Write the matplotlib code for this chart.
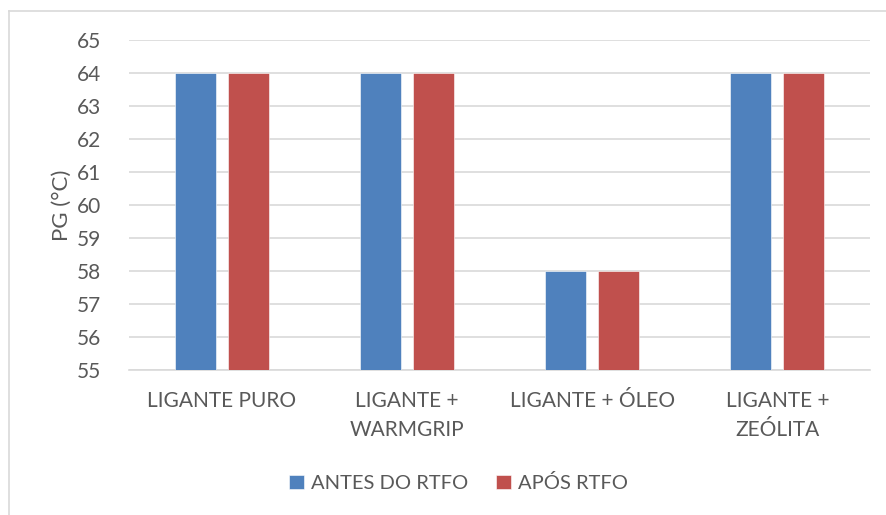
import numpy as np
import matplotlib
matplotlib.use("Agg")
import matplotlib.pyplot as plt
from matplotlib.lines import Line2D

categories = ["LIGANTE PURO", "LIGANTE +\nWARMGRIP", "LIGANTE + ÓLEO", "LIGANTE +\nZEÓLITA"]
antes = [64, 64, 58, 64]
apos = [64, 64, 58, 64]
series_names = ["ANTES DO RTFO", "APÓS RTFO"]
colors = ["#4F81BD", "#C0504D"]
text_color = "#595959"
grid_color = "#D9D9D9"

plt.rcParams['font.family'] = ['Lato', 'DejaVu Sans']

fig = plt.figure(figsize=(8.86, 5.15), dpi=100)
ax = fig.add_axes([129/886, 1-370/515, (870-129)/886, (370-40)/515])

x = np.arange(len(categories))
w = 0.222
off = 0.143
ax.bar(x - off, antes, width=w, color=colors[0], label=series_names[0], zorder=3,
       edgecolor="white", linewidth=0.4)
ax.bar(x + off, apos, width=w, color=colors[1], label=series_names[1], zorder=3,
       edgecolor="white", linewidth=0.4)

ax.set_xlim(-0.5, len(categories) - 0.5)
ax.set_ylim(55, 65)
ax.set_yticks(range(55, 66))
ax.yaxis.grid(True, color=grid_color, linewidth=1.2, zorder=0)
ax.set_axisbelow(True)
for s in ["top", "right", "left"]:
    ax.spines[s].set_visible(False)
ax.spines["bottom"].set_color(grid_color)
ax.spines["bottom"].set_linewidth(1.2)
ax.tick_params(axis="both", length=0, colors=text_color, labelsize=15)
ax.tick_params(axis="y", pad=20)
ax.tick_params(axis="x", pad=15)
ax.set_xticks(x)
ax.set_xticklabels(categories, linespacing=1.6)
ax.set_ylabel("PG (°C)", color=text_color, fontsize=16, labelpad=4)

leg = fig.legend(loc="center", bbox_to_anchor=(0.5175, 1-483/515), ncol=2, frameon=False,
                 fontsize=14.5, handlelength=0.75, handleheight=0.75, handletextpad=0.35,
                 columnspacing=1.4, labelcolor=text_color)

# outer chart border (left and top only visible)
fig.add_artist(Line2D([8.5/886, 8.5/886], [0, 1-11/515], color=grid_color, linewidth=1.2,
                      transform=fig.transFigure))
fig.add_artist(Line2D([8.5/886, 1], [1-11/515, 1-11/515], color=grid_color, linewidth=1.2,
                      transform=fig.transFigure))

fig.savefig("out.png", dpi=100)
